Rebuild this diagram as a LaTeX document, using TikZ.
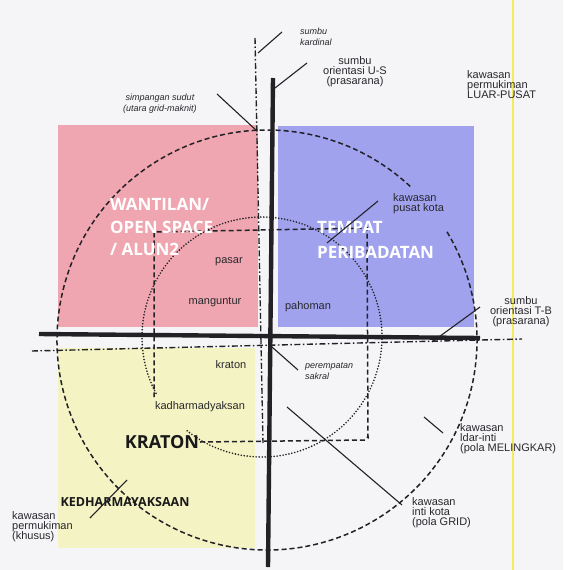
\documentclass[tikz,border=0pt]{standalone}
\usepackage{fontspec}
\setmainfont{Liberation Sans}
\newfontfamily\headfont{Open Sans}
\definecolor{bg}{RGB}{245,245,247}
\definecolor{pinkc}{RGB}{240,166,176}
\definecolor{bluec}{RGB}{160,162,238}
\definecolor{yellowc}{RGB}{244,243,196}
\definecolor{pageyel}{RGB}{242,236,90}
\definecolor{ink}{RGB}{34,34,38}
\definecolor{txt}{RGB}{40,40,45}
\lineskiplimit=-20pt
\begin{document}
\begin{tikzpicture}[x=1pt,y=-1pt,
  axisline/.style={draw=ink, line width=4.4pt},
  cardinal/.style={draw=ink, line width=1.4pt, dash pattern=on 6pt off 2.5pt on 1.5pt off 2.5pt},
  bigdash/.style={draw=ink, line width=1.5pt, dash pattern=on 5pt off 3pt},
  dotc/.style={draw=ink, line width=1.8pt, line cap=round, dash pattern=on 0pt off 3pt},
  sqdash/.style={draw=ink, line width=1.5pt, dash pattern=on 5pt off 3pt},
  lead/.style={draw=ink, line width=1.1pt},
  lbl/.style={text=txt, font=\fontsize{11}{10}\selectfont, inner sep=0pt, align=left},
  ilbl/.style={text=txt, font=\itshape\fontsize{9}{11}\selectfont, inner sep=0pt},
  bigw/.style={text=white, font=\headfont\bfseries\fontsize{17}{22.5}\selectfont, inner sep=0pt, align=left},
  bigk/.style={text=black!90, font=\headfont\bfseries, inner sep=0pt}
]
\useasboundingbox (0,0) rectangle (563,570);
\fill[bg] (0,0) rectangle (563,570);

% coloured quadrants
\fill[pinkc] (58,125) rectangle (258,327);
\fill[bluec] (278,126) rectangle (474,327);
\fill[yellowc] (58,348) rectangle (255,548);

% page highlighter line
\draw[pageyel, line width=1.6pt] (513,0) -- (513,570);

% circles and grid square
\draw[bigdash] (267,340) ++(-31:210) arc[start angle=-31, end angle=313, radius=210];
\draw[dotc] (262,337) ++(152:120) arc[start angle=152, end angle=490, radius=120];
\draw[sqdash] (200,442) -- (365,440) to[out=0,in=90] (368,437) -- (367,228) -- (154,232) -- (154,397);

% cardinal axes (dash-dot)
\coordinate (cn) at (255,38);
\coordinate (cs) at (263,443);
\coordinate (cw) at (32,351);
\coordinate (ce) at (522,339);
\draw[cardinal] (cn) -- (cs);
\draw[cardinal] (cw) -- (ce);

% orientation axes (thick)
\coordinate (vt) at (273,78);
\coordinate (vb) at (268,567);
\coordinate (hl) at (39,334);
\coordinate (hr) at (480,338);
\draw[axisline] (vt) -- (vb);
\draw[axisline] (hl) -- (hr);

% labels
\node[ilbl, align=center] (simp) at (160,104) {simpangan sudut\\(utara grid-maknit)};
\node[ilbl, align=left, anchor=west] (kard) at (300,36.5) {sumbu\\kardinal};
\node[lbl, align=center] (us) at (355,72) {sumbu\\orientasi U-S\\(prasarana)};
\node[lbl, anchor=west] (luar) at (467,85) {kawasan\\permukiman\\LUAR-PUSAT};
\node[bigw, anchor=west] (want) at (110,227) {WANTILAN/\\OPEN SPACE\\/ ALUN2};
\node[bigw, anchor=west, font=\headfont\bfseries\fontsize{17}{24.5}\selectfont] (temp) at (317,240) {TEMPAT\\PERIBADATAN};
\node[lbl, anchor=west] (pusat) at (393,204) {kawasan\\pusat kota};
\node[lbl] (pasar) at (229,262) {pasar};
\node[lbl] (mang) at (215,302) {manguntur};
\node[lbl] (paho) at (308,307) {pahoman};
\node[lbl, align=center] (tb) at (521,312) {sumbu\\orientasi T-B\\(prasarana)};
\node[lbl] (krat) at (231,365) {kraton};
\node[ilbl, anchor=west, align=left] (pere) at (305,371.5) {perempatan\\sakral};
\node[lbl] (kadh) at (200,407) {kadharmadyaksan};
\node[bigk, font=\headfont\bfseries\fontsize{18}{20}\selectfont] (KRAT) at (162,442) {KRATON};
\node[lbl, anchor=west] (luarinti) at (460,439) {kawasan\\ldar-inti\\(pola MELINGKAR)};
\node[lbl, anchor=west] (inti) at (412,512.5) {kawasan\\inti kota\\(pola GRID)};
\node[bigk, font=\headfont\bfseries\fontsize{12.5}{14}\selectfont] (kedh) at (125,502) {KEDHARMAYAKSAAN};
\node[lbl, anchor=west] (khusus) at (12,527) {kawasan\\permukiman\\(khusus)};

% leader lines
\coordinate (kardA) at (282,32);   \coordinate (kardB) at (258,53);
\coordinate (usA) at (307,63);     \coordinate (usB) at (275,88);
\coordinate (simpA) at (217,94);   \coordinate (simpB) at (257,131);
\coordinate (pusA) at (378,201);   \coordinate (pusB) at (327,243);
\coordinate (tbA) at (480,307);    \coordinate (tbB) at (432,342);
\coordinate (perA) at (272,347);   \coordinate (perB) at (298,370);
\coordinate (intA) at (287,407);   \coordinate (intB) at (402,505);
\coordinate (liA) at (424,417);    \coordinate (liB) at (443,433);
\coordinate (kdA) at (127,480);    \coordinate (kdB) at (90,518);
\draw[lead] (kardA) -- (kardB);
\draw[lead] (usA) -- (usB);
\draw[lead] (simpA) -- (simpB);
\draw[lead] (pusA) -- (pusB);
\draw[lead] (tbA) -- (tbB);
\draw[lead] (perA) -- (perB);
\draw[lead] (intA) -- (intB);
\draw[lead] (liA) -- (liB);
\draw[lead] (kdA) -- (kdB);
\end{tikzpicture}
\end{document}
